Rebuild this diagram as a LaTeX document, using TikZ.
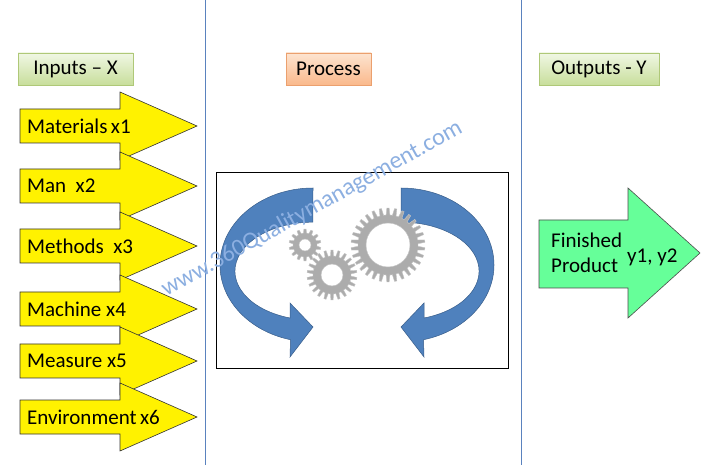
\documentclass[tikz,border=0pt]{standalone}
\usepackage{fontspec}
\setmainfont{Carlito}
\begin{document}
\begin{tikzpicture}[x=1pt,y=1pt,
  lbl/.style={font=\fontsize{21}{25}\selectfont, anchor=west, inner sep=0pt},
  yarrow/.style={fill=yellow, draw=black!80, line width=0.6pt},
  vline/.style={draw={rgb,255:red,90;green,130;blue,190}, line width=0.8pt},
  bluearr/.style={fill={rgb,255:red,79;green,129;blue,189}, draw={rgb,255:red,56;green,93;blue,138}, line width=0.5pt},
  gear/.style={fill=gray!65, draw=gray!45, even odd rule}]
\useasboundingbox (0,0) rectangle (706,471);
\fill[white] (0,0) rectangle (706,471);
% vertical lines
\coordinate (l1t) at (205,471); \coordinate (l1b) at (205,6);
\coordinate (l2t) at (521,471); \coordinate (l2b) at (521,6);
\draw[vline] (l1t) -- (l1b);
\draw[vline] (l2t) -- (l2b);
% header boxes
\node[draw={rgb,255:red,175;green,200;blue,120}, top color={rgb,255:red,240;green,247;blue,228}, bottom color={rgb,255:red,200;green,222;blue,155}, minimum width=115, minimum height=32, inner sep=0pt, font=\fontsize{21}{25}\selectfont] (inputs) at (75.5,402) {Inputs -- X};
\node[draw={rgb,255:red,235;green,160;blue,110}, top color={rgb,255:red,253;green,228;blue,208}, bottom color={rgb,255:red,250;green,185;blue,140}, minimum width=85, minimum height=32, inner sep=0pt, font=\fontsize{21}{25}\selectfont] (process) at (328.5,402) {Process};
\node[draw={rgb,255:red,175;green,200;blue,120}, top color={rgb,255:red,240;green,247;blue,228}, bottom color={rgb,255:red,200;green,222;blue,155}, minimum width=120, minimum height=32, inner sep=0pt, font=\fontsize{21}{25}\selectfont] (outputs) at (599,402) {Outputs - Y};
% yellow input arrows
\foreach \c/\t [count=\i] in {345/Materials\,x1, 285/Man\ \ x2, 225/Methods\ \ x3, 162/Machine x4, 110/Measure x5, 54/Environment\,x6}{
  \draw[yarrow] (20,\c+17) -- (120,\c+17) -- (120,\c+34) -- (197,\c) -- (120,\c-34) -- (120,\c-17) -- (20,\c-17) -- cycle;
  \node[lbl] (in\i) at (27,\c) {\t};
}
% process box
\node[draw=black, line width=0.8pt, minimum width=292, minimum height=196, inner sep=0pt] (pbox) at (362,201) {};
% blue curved arrows
\draw[bluearr] (313,283) arc[start angle=90,end angle=256,x radius=93,y radius=77]
  -- (290,114) -- (313,144) -- (290,168) -- (290,153)
  arc[start angle=252.9,end angle=90,x radius=78,y radius=49] -- cycle;
\begin{scope}[xshift=714pt,xscale=-1]
\draw[bluearr] (313,283) arc[start angle=90,end angle=256,x radius=93,y radius=77]
  -- (290,114) -- (313,144) -- (290,168) -- (290,153)
  arc[start angle=252.9,end angle=90,x radius=78,y radius=49] -- cycle;
\end{scope}
% gears
\foreach \gx/\gy/\R/\r/\h/\n in {305/226/16/12/6/14, 332/196/25/19/11/22, 388/226/37/30/22/30}{
  \begin{scope}[shift={(\gx,\gy)}]
  \fill[gear] (0:\r) \foreach \k in {1,...,\n}{
     -- ({(\k-0.8)*360/\n}:\r) -- ({(\k-0.65)*360/\n}:\R) -- ({(\k-0.35)*360/\n}:\R) -- ({(\k-0.2)*360/\n}:\r) -- ({\k*360/\n}:\r)} -- cycle
     (0,0) circle (\h);
  \end{scope}
}
% watermark (on top)
\node[rotate=29, text={rgb,255:red,140;green,175;blue,225}, font=\fontsize{24}{28}\selectfont] (wm) at (312,262) {www.360Qualitymanagement.com};
% finished product arrow
\draw[fill={rgb,255:red,102;green,255;blue,153}, draw=black!70, line width=0.6pt]
  (539,251) -- (628,251) -- (628,283) -- (700,218) -- (628,153) -- (628,183) -- (539,183) -- cycle;
\node[lbl, align=left] (fp) at (551,218) {Finished\\Product};
\node[lbl] (fy) at (627,214) {y1, y2};
\end{tikzpicture}
\end{document}
